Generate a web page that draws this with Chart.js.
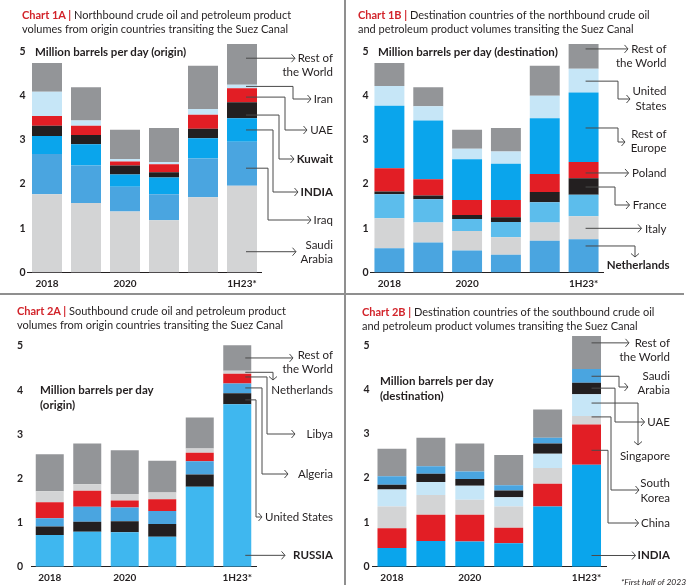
<!DOCTYPE html>
<html><head><meta charset="utf-8">
<script src="https://cdn.jsdelivr.net/npm/chart.js@4.4.0/dist/chart.umd.min.js"></script>
<style>
html,body{margin:0;padding:0;background:#fff;}
body{width:689px;height:585px;overflow:hidden;position:relative;font-family:Lato,"Noto Sans",sans-serif;color:#231f20;}
canvas{position:absolute;}
.t{position:absolute;white-space:nowrap;}
.title{font-size:11px;line-height:14px;}
.title b{color:#d2232a;}
.ax{font-size:11.5px;font-weight:bold;line-height:15px;}
.lab{position:absolute;white-space:nowrap;font-size:11.5px;line-height:12px;text-align:right;}
.div{position:absolute;background:#8f8f8f;}
.foot{font-size:8.5px;font-style:italic;}
</style></head><body>

<div class="div" style="left:344px;top:0;width:1.5px;height:585px"></div>
<div class="div" style="left:0;top:293px;width:684px;height:1.5px"></div>

<div class="t title" style="left:22px;top:8px">
<b>Chart 1A |</b> Northbound crude oil and petroleum product<br>volumes from origin countries transiting the Suez Canal</div>
<div class="t title" style="left:358px;top:8px">
<b>Chart 1B |</b> Destination countries of the northbound crude oil<br>and petroleum product volumes transiting the Suez Canal</div>
<div class="t title" style="left:17px;top:304px">
<b>Chart 2A |</b> Southbound crude oil and petroleum product<br>volumes from origin countries transiting the Suez Canal</div>
<div class="t title" style="left:362px;top:305px">
<b>Chart 2B |</b> Destination countries of the southbound crude oil<br>and petroleum product volumes transiting the Suez Canal</div>

<div class="t ax" style="left:35px;top:44px">Million barrels per day (origin)</div>
<div class="t ax" style="left:378px;top:44px">Million barrels per day (destination)</div>
<div class="t ax" style="left:40px;top:382px">Million barrels per day<br>(origin)</div>
<div class="t ax" style="left:380px;top:373px">Million barrels per day<br>(destination)</div>

<div class="t foot" style="left:621px;top:577px">*First half of 2023</div>

<script>
// ---------- shared ----------
const years = ["2018", "2019", "2020", "2021", "2022", "1H23*"];
const tickLabels = ["2018", "", "2020", "", "", "1H23*"];
const yTicks = [0, 1, 2, 3, 4, 5];

// ---------- Chart 1A: northbound, origin ----------
const n1aSaudi  = [1.77, 1.57, 1.38, 1.18, 1.70, 1.96];
const n1aIraq   = [0.91, 0.85, 0.56, 0.59, 0.88, 1.00];
const n1aIndia  = [0.41, 0.48, 0.28, 0.38, 0.46, 0.53];
const n1aKuwait = [0.23, 0.21, 0.20, 0.12, 0.21, 0.36];
const n1aUAE    = [0.22, 0.21, 0.09, 0.18, 0.32, 0.32];
const n1aIran   = [0.55, 0.12, 0.06, 0.05, 0.13, 0.08];
const n1aRow    = [0.65, 0.75, 0.66, 0.77, 0.98, 0.92];

// ---------- Chart 1B: northbound, destination ----------
const n1bNetherlands = [0.55, 0.68, 0.50, 0.40, 0.72, 0.75];
const n1bItaly       = [0.68, 0.45, 0.44, 0.40, 0.41, 0.52];
const n1bUnlabelled  = [0.54, 0.53, 0.27, 0.34, 0.46, 0.49];
const n1bFrance      = [0.06, 0.08, 0.09, 0.11, 0.23, 0.37];
const n1bPoland      = [0.53, 0.37, 0.34, 0.39, 0.41, 0.37];
const n1bRestEurope  = [1.41, 1.33, 0.92, 0.82, 1.26, 1.57];
const n1bUS          = [0.45, 0.32, 0.24, 0.28, 0.51, 0.54];
const n1bRow         = [0.52, 0.43, 0.43, 0.53, 0.68, 0.56];

// ---------- Chart 2A: southbound, origin ----------
const s2aRussia      = [0.72, 0.79, 0.78, 0.68, 1.81, 3.68];
const s2aUS          = [0.19, 0.23, 0.25, 0.29, 0.28, 0.25];
const s2aAlgeria     = [0.19, 0.34, 0.31, 0.29, 0.30, 0.22];
const s2aLibya       = [0.36, 0.36, 0.16, 0.27, 0.19, 0.22];
const s2aNetherlands = [0.25, 0.15, 0.15, 0.15, 0.10, 0.07];
const s2aRow         = [0.84, 0.92, 0.99, 0.72, 0.70, 0.58];

// ---------- Chart 2B: southbound, destination ----------
const s2bIndia     = [0.42, 0.58, 0.57, 0.53, 1.36, 2.30];
const s2bChina     = [0.45, 0.59, 0.60, 0.35, 0.51, 0.91];
const s2bKorea     = [0.49, 0.45, 0.34, 0.48, 0.36, 0.19];
const s2bSingapore = [0.38, 0.29, 0.32, 0.21, 0.32, 0.49];
const s2bUAE       = [0.11, 0.19, 0.15, 0.15, 0.23, 0.26];
const s2bSaudi     = [0.19, 0.17, 0.17, 0.12, 0.13, 0.31];
const s2bRow       = [0.62, 0.64, 0.63, 0.68, 0.64, 0.75];

const COL = {
  dgray: '#939598', lgray: '#d3d4d5', pale: '#c6e6f7', mblue: '#4aa5e0',
  bblue: '#0aa5ec', red: '#e21e25', black: '#231f20', sky: '#3fb7ef', lblue: '#5cbdec'
};
const TXT = '#231f20';
const LINE = '#4a4a4a';

function annPlugin(cfg) {
  return {
    id: 'ann_' + cfg.id,
    afterDatasetsDraw(chart) {
      const ctx = chart.ctx;
      const last = years.length - 1;
      ctx.save();
      ctx.strokeStyle = LINE;
      ctx.lineWidth = 1;
      cfg.anns.forEach(a => {
        const el = chart.getDatasetMeta(a.ds).data[last];
        const y = el.base - (el.base - el.y) * a.f;
        const sx = el.x + cfg.sxOff;
        ctx.beginPath();
        ctx.moveTo(sx, y);
        if (a.type === 's') {
          ctx.lineTo(a.ax, y);
          ctx.stroke();
          chevronRight(ctx, a.ax, y);
        } else if (a.type === 'e') {
          ctx.lineTo(a.ex, y);
          ctx.lineTo(a.ex, a.ty);
          ctx.lineTo(a.ax, a.ty);
          ctx.stroke();
          chevronRight(ctx, a.ax, a.ty);
        } else {
          ctx.lineTo(a.ex, y);
          ctx.lineTo(a.ex, a.ty);
          ctx.stroke();
          chevronDown(ctx, a.ex, a.ty);
        }
      });
      ctx.restore();
    }
  };
}
function chevronRight(ctx, x, y) {
  ctx.beginPath();
  ctx.moveTo(x - 3.5, y - 4); ctx.lineTo(x, y); ctx.lineTo(x - 3.5, y + 4);
  ctx.stroke();
}
function chevronDown(ctx, x, y) {
  ctx.beginPath();
  ctx.moveTo(x - 4, y - 3.5); ctx.lineTo(x, y); ctx.lineTo(x + 4, y - 3.5);
  ctx.stroke();
}

function makePanel(cfg) {
  // labels (HTML text), measured to place arrow tips
  cfg.anns.forEach(a => {
    let minLeft = 1e9;
    a.labels.forEach(([txt, ly]) => {
      const d = document.createElement('div');
      d.className = 'lab';
      d.textContent = txt;
      if (a.bold) d.style.fontWeight = 'bold';
      const R = a.R !== undefined ? a.R : cfg.R;
      d.style.right = (689 - (cfg.x + R)) + 'px';
      d.style.top = (cfg.y + ly - 6.5) + 'px';
      document.body.appendChild(d);
      minLeft = Math.min(minLeft, d.offsetLeft - cfg.x);
    });
    if (a.ax === undefined && a.type !== 'd') a.ax = minLeft - (a.gap !== undefined ? a.gap : 3);
  });

  const cv = document.createElement('canvas');
  cv.width = cfg.w; cv.height = cfg.h;
  cv.style.left = cfg.x + 'px'; cv.style.top = cfg.y + 'px';
  cv.style.width = cfg.w + 'px'; cv.style.height = cfg.h + 'px';
  document.body.insertBefore(cv, document.body.firstChild);
  const g = cfg.geo;
  const yMax = 5.4;
  const top = g.zero - yMax * g.unit;
  const catW = (g.right - g.left) / years.length;
  new Chart(cv, {
    type: 'bar',
    data: {
      labels: years,
      datasets: cfg.series.map(s => ({
        label: s.name, data: s.data, backgroundColor: s.color, borderWidth: 0,
        barPercentage: g.bar / catW, categoryPercentage: 1
      }))
    },
    options: {
      responsive: false, animation: false, devicePixelRatio: 1,
      layout: { padding: { top: top, left: 0, right: cfg.w - g.right, bottom: 0 } },
      plugins: { legend: { display: false }, tooltip: { enabled: false } },
      scales: {
        x: {
          stacked: true,
          grid: { display: false, drawTicks: false },
          border: { display: true, color: TXT, width: 1 },
          ticks: {
            autoSkip: false, maxRotation: 0, minRotation: 0, padding: 5, color: TXT,
            font: { family: 'Lato', weight: 'bold', size: 10 },
            callback: (v, i) => tickLabels[i]
          },
          afterFit: s => { s.height = cfg.h - g.zero; }
        },
        y: {
          stacked: true, min: 0, max: yMax,
          grid: { display: false, drawTicks: false },
          border: { display: false },
          ticks: { padding: g.tickPad, color: TXT, font: { family: 'Lato', weight: 'bold', size: 10.5 } },
          afterBuildTicks: s => { s.ticks = yTicks.map(v => ({ value: v })); },
          afterFit: s => { s.width = g.left; }
        }
      }
    },
    plugins: [annPlugin(cfg)]
  });
}

makePanel({
  id: '1a', x: 0, y: 0, w: 344, h: 293, R: 333, sxOff: 4,
  geo: { left: 27.5, right: 261.5, zero: 272.5, unit: 44.2, bar: 30, tickPad: 2 },
  series: [
    { name: 'Saudi Arabia', data: n1aSaudi, color: COL.lgray },
    { name: 'Iraq', data: n1aIraq, color: COL.mblue },
    { name: 'INDIA', data: n1aIndia, color: COL.bblue },
    { name: 'Kuwait', data: n1aKuwait, color: COL.black },
    { name: 'UAE', data: n1aUAE, color: COL.red },
    { name: 'Iran', data: n1aIran, color: COL.pale },
    { name: 'Rest of the World', data: n1aRow, color: COL.dgray }
  ],
  anns: [
    { ds: 6, f: 0.65, type: 's', ax: 295, labels: [['Rest of', 58], ['the World', 72]] },
    { ds: 5, f: 0.5, type: 'e', ex: 293, ty: 99, labels: [['Iran', 99]] },
    { ds: 4, f: 0.37, type: 'e', ex: 285, ty: 130, labels: [['UAE', 130]] },
    { ds: 3, f: 0.2, type: 'e', ex: 279, ty: 159, bold: true, labels: [['Kuwait', 159]] },
    { ds: 2, f: 0.5, type: 'e', ex: 273, ty: 192, bold: true, labels: [['INDIA', 192]] },
    { ds: 1, f: 0.4, type: 'e', ex: 268, ty: 220, labels: [['Iraq', 220]] },
    { ds: 0, f: 0.24, type: 's', ax: 296, labels: [['Saudi', 245], ['Arabia', 259]] }
  ]
});

makePanel({
  id: '1b', x: 345.5, y: 0, w: 343.5, h: 293, R: 321, sxOff: 2,
  geo: { left: 24, right: 257.5, zero: 272.5, unit: 44.2, bar: 30, tickPad: 1.5 },
  series: [
    { name: 'Netherlands', data: n1bNetherlands, color: COL.mblue },
    { name: 'Italy', data: n1bItaly, color: COL.lgray },
    { name: 'Other (unlabelled)', data: n1bUnlabelled, color: COL.lblue },
    { name: 'France', data: n1bFrance, color: COL.black },
    { name: 'Poland', data: n1bPoland, color: COL.red },
    { name: 'Rest of Europe', data: n1bRestEurope, color: COL.bblue },
    { name: 'United States', data: n1bUS, color: COL.pale },
    { name: 'Rest of the World', data: n1bRow, color: COL.dgray }
  ],
  anns: [
    { ds: 7, f: 0.8, type: 's', ax: 282, labels: [['Rest of', 49], ['the World', 63]] },
    { ds: 6, f: 0.48, type: 'e', ex: 272, ty: 99, ax: 284, labels: [['United', 91], ['States', 106]] },
    { ds: 5, f: 0.49, type: 'e', ex: 272, ty: 142, ax: 279, labels: [['Rest of', 134], ['Europe', 148]] },
    { ds: 4, f: 0.33, type: 's', gap: 4, labels: [['Poland', 173]] },
    { ds: 3, f: 0.47, type: 'e', ex: 269, ty: 205, gap: 4, labels: [['France', 205]] },
    { ds: 1, f: 0.48, type: 's', gap: 4, labels: [['Italy', 229]] },
    { ds: 0, f: 0.8, type: 'd', ex: 289, ty: 257, bold: true, R: 324, labels: [['Netherlands', 265]] }
  ]
});

makePanel({
  id: '2a', x: 0, y: 294, w: 344, h: 291, R: 333, sxOff: 8,
  geo: { left: 31, right: 256, zero: 272.7, unit: 44.13, bar: 28, tickPad: 8 },
  series: [
    { name: 'RUSSIA', data: s2aRussia, color: COL.sky },
    { name: 'United States', data: s2aUS, color: COL.black },
    { name: 'Algeria', data: s2aAlgeria, color: COL.mblue },
    { name: 'Libya', data: s2aLibya, color: COL.red },
    { name: 'Netherlands', data: s2aNetherlands, color: COL.lgray },
    { name: 'Rest of the World', data: s2aRow, color: COL.dgray }
  ],
  anns: [
    { ds: 5, f: 0.5, type: 's', ax: 293, labels: [['Rest of', 61.5], ['the World', 75]] },
    { ds: 4, f: 0.5, type: 'd', ex: 273, ty: 86, labels: [['Netherlands', 96]] },
    { ds: 3, f: 0.68, type: 'e', ex: 267, ty: 140, gap: 12, labels: [['Libya', 140]] },
    { ds: 2, f: 0.55, type: 'e', ex: 262, ty: 180, gap: 10, labels: [['Algeria', 180]] },
    { ds: 1, f: 0.4, type: 'e', ex: 256, ty: 223, gap: 3, labels: [['United States', 223]] },
    { ds: 0, f: 0.07, type: 's', gap: 8, bold: true, labels: [['RUSSIA', 261]] }
  ]
});

makePanel({
  id: '2b', x: 345.5, y: 294, w: 343.5, h: 291, R: 324.5, sxOff: 5,
  geo: { left: 26.5, right: 260.5, zero: 272.7, unit: 44.3, bar: 29, tickPad: 3 },
  series: [
    { name: 'INDIA', data: s2bIndia, color: COL.bblue },
    { name: 'China', data: s2bChina, color: COL.red },
    { name: 'South Korea', data: s2bKorea, color: COL.lgray },
    { name: 'Singapore', data: s2bSingapore, color: COL.pale },
    { name: 'UAE', data: s2bUAE, color: COL.black },
    { name: 'Saudi Arabia', data: s2bSaudi, color: COL.mblue },
    { name: 'Rest of the World', data: s2bRow, color: COL.dgray }
  ],
  anns: [
    { ds: 6, f: 0.79, type: 's', ax: 283, labels: [['Rest of', 49], ['the World', 63]] },
    { ds: 5, f: 0.48, type: 'e', ex: 273, ty: 93, ax: 282, labels: [['Saudi', 82], ['Arabia', 96]] },
    { ds: 4, f: 0.54, type: 'e', ex: 269, ty: 128, labels: [['UAE', 128]] },
    { ds: 3, f: 0.6, type: 'd', ex: 292, ty: 151, labels: [['Singapore', 162]] },
    { ds: 2, f: 0.9, type: 'e', ex: 265, ty: 196, ax: 293, labels: [['South', 189], ['Korea', 204]] },
    { ds: 1, f: 0.36, type: 'e', ex: 262, ty: 229, labels: [['China', 229]] },
    { ds: 0, f: 0.11, type: 's', bold: true, labels: [['INDIA', 261]] }
  ]
});
</script>
</body></html>
